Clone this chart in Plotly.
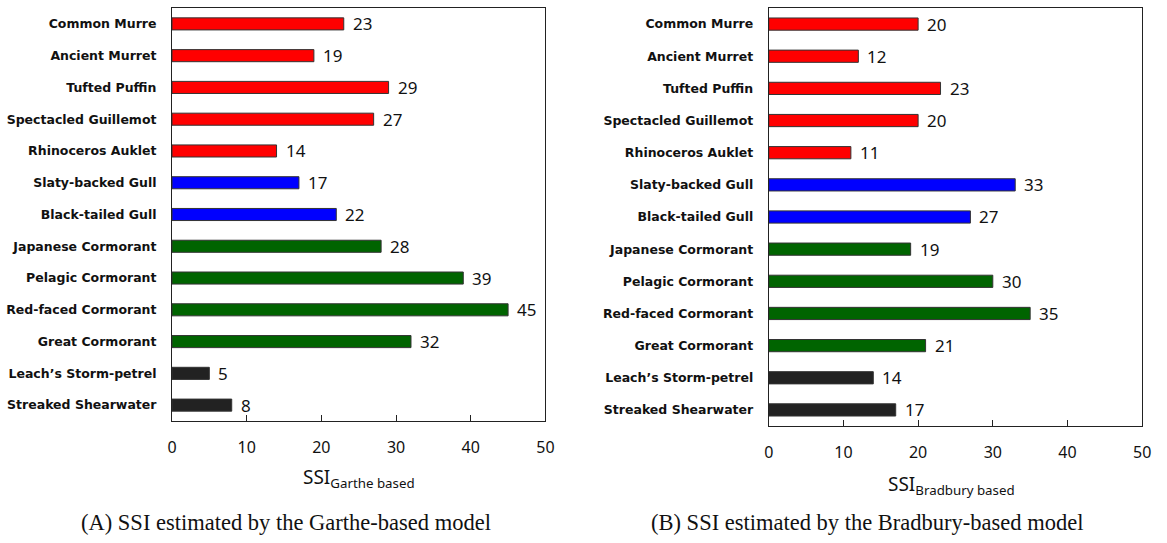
import plotly.graph_objects as go

# Species, listed top to bottom
species = [
    "Common Murre", "Ancient Murret", "Tufted Puffin", "Spectacled Guillemot",
    "Rhinoceros Auklet", "Slaty-backed Gull", "Black-tailed Gull",
    "Japanese Cormorant", "Pelagic Cormorant", "Red-faced Cormorant",
    "Great Cormorant", "Leach\u2019s Storm-petrel", "Streaked Shearwater",
]
# Species group (alcids, gulls, cormorants, tubenoses)
groups = ["alcid"] * 5 + ["gull"] * 2 + ["cormorant"] * 4 + ["tubenose"] * 2

ssi_garthe = [23, 19, 29, 27, 14, 17, 22, 28, 39, 45, 32, 5, 8]
ssi_bradbury = [20, 12, 23, 20, 11, 33, 27, 19, 30, 35, 21, 14, 17]

x_ticks = [0, 10, 20, 30, 40, 50]

group_colors = {"alcid": "#FF0000", "gull": "#0000FF",
                "cormorant": "#006400", "tubenose": "#222222"}
bar_colors = [group_colors[g] for g in groups]

W, H = 1167, 543
fig = go.Figure()

panels = [
    dict(vals=ssi_garthe, xa="x", ya="y", x0=169, x1=547, y0=8, y1=421,
         sub="Garthe based", caption="(A) SSI estimated by the Garthe-based model",
         title_x=358, title_y=478, cap_x=284),
    dict(vals=ssi_bradbury, xa="x2", ya="y2", x0=773, x1=1151, y0=8, y1=426,
         sub="Bradbury based", caption="(B) SSI estimated by the Bradbury-based model",
         title_x=958, title_y=485, cap_x=872),
]

for i, p in enumerate(panels):
    fig.add_trace(go.Bar(
        x=p["vals"], y=species, orientation="h", width=0.38,
        marker=dict(color=bar_colors, line=dict(color="#333333", width=1)),
        xaxis=p["xa"], yaxis=p["ya"], showlegend=False, hoverinfo="skip",
    ))
    # value labels to the right of each bar
    for name, v in zip(species, p["vals"]):
        fig.add_annotation(
            x=v, y=name, xref=p["xa"], yref=p["ya"], text=str(v),
            xanchor="left", yanchor="middle", xshift=7, showarrow=False,
            font=dict(family="Noto Sans", size=17, color="#111111"),
        )
    # axis title with subscript
    fig.add_annotation(
        x=p["title_x"] / W, y=1 - p["title_y"] / H, xref="paper", yref="paper",
        text=f"SSI<sub>{p['sub']}</sub>", showarrow=False,
        xanchor="center", yanchor="middle",
        font=dict(family="Noto Sans", size=19, color="#111111"),
    )
    # panel caption
    fig.add_annotation(
        x=p["cap_x"] / W, y=1 - 522 / H, xref="paper", yref="paper",
        text=p["caption"], showarrow=False, xanchor="center", yanchor="middle",
        font=dict(family="Liberation Serif", size=22.5, color="#111111"),
    )

    sfx = "" if i == 0 else "2"
    fig.update_layout(**{
        f"xaxis{sfx}": dict(
            domain=[p["x0"] / W, p["x1"] / W], range=[0, 50],
            tickvals=x_ticks, ticks="inside", ticklen=6, tickcolor="#222222",
            showline=True, mirror=True, linecolor="#222222", linewidth=1,
            showgrid=False, zeroline=False, anchor=p["ya"],
            ticklabelstandoff=12,
            tickfont=dict(family="Noto Sans", size=16, color="#111111"),
        ),
        f"yaxis{sfx}": dict(
            domain=[1 - p["y1"] / H, 1 - p["y0"] / H],
            categoryorder="array", categoryarray=species,
            range=[12.5, -0.5], ticks="", showline=True, mirror=True,
            linecolor="#222222", linewidth=1, showgrid=False, zeroline=False,
            anchor=p["xa"], ticklabelstandoff=12,
            tickfont=dict(family="DejaVu Sans", size=12.5, color="#111111",
                          weight="bold"),
        ),
    })

fig.update_layout(
    width=W, height=H, margin=dict(l=0, r=0, t=0, b=0),
    paper_bgcolor="white", plot_bgcolor="white", bargap=0.6,
)

fig.write_html("out.html")
